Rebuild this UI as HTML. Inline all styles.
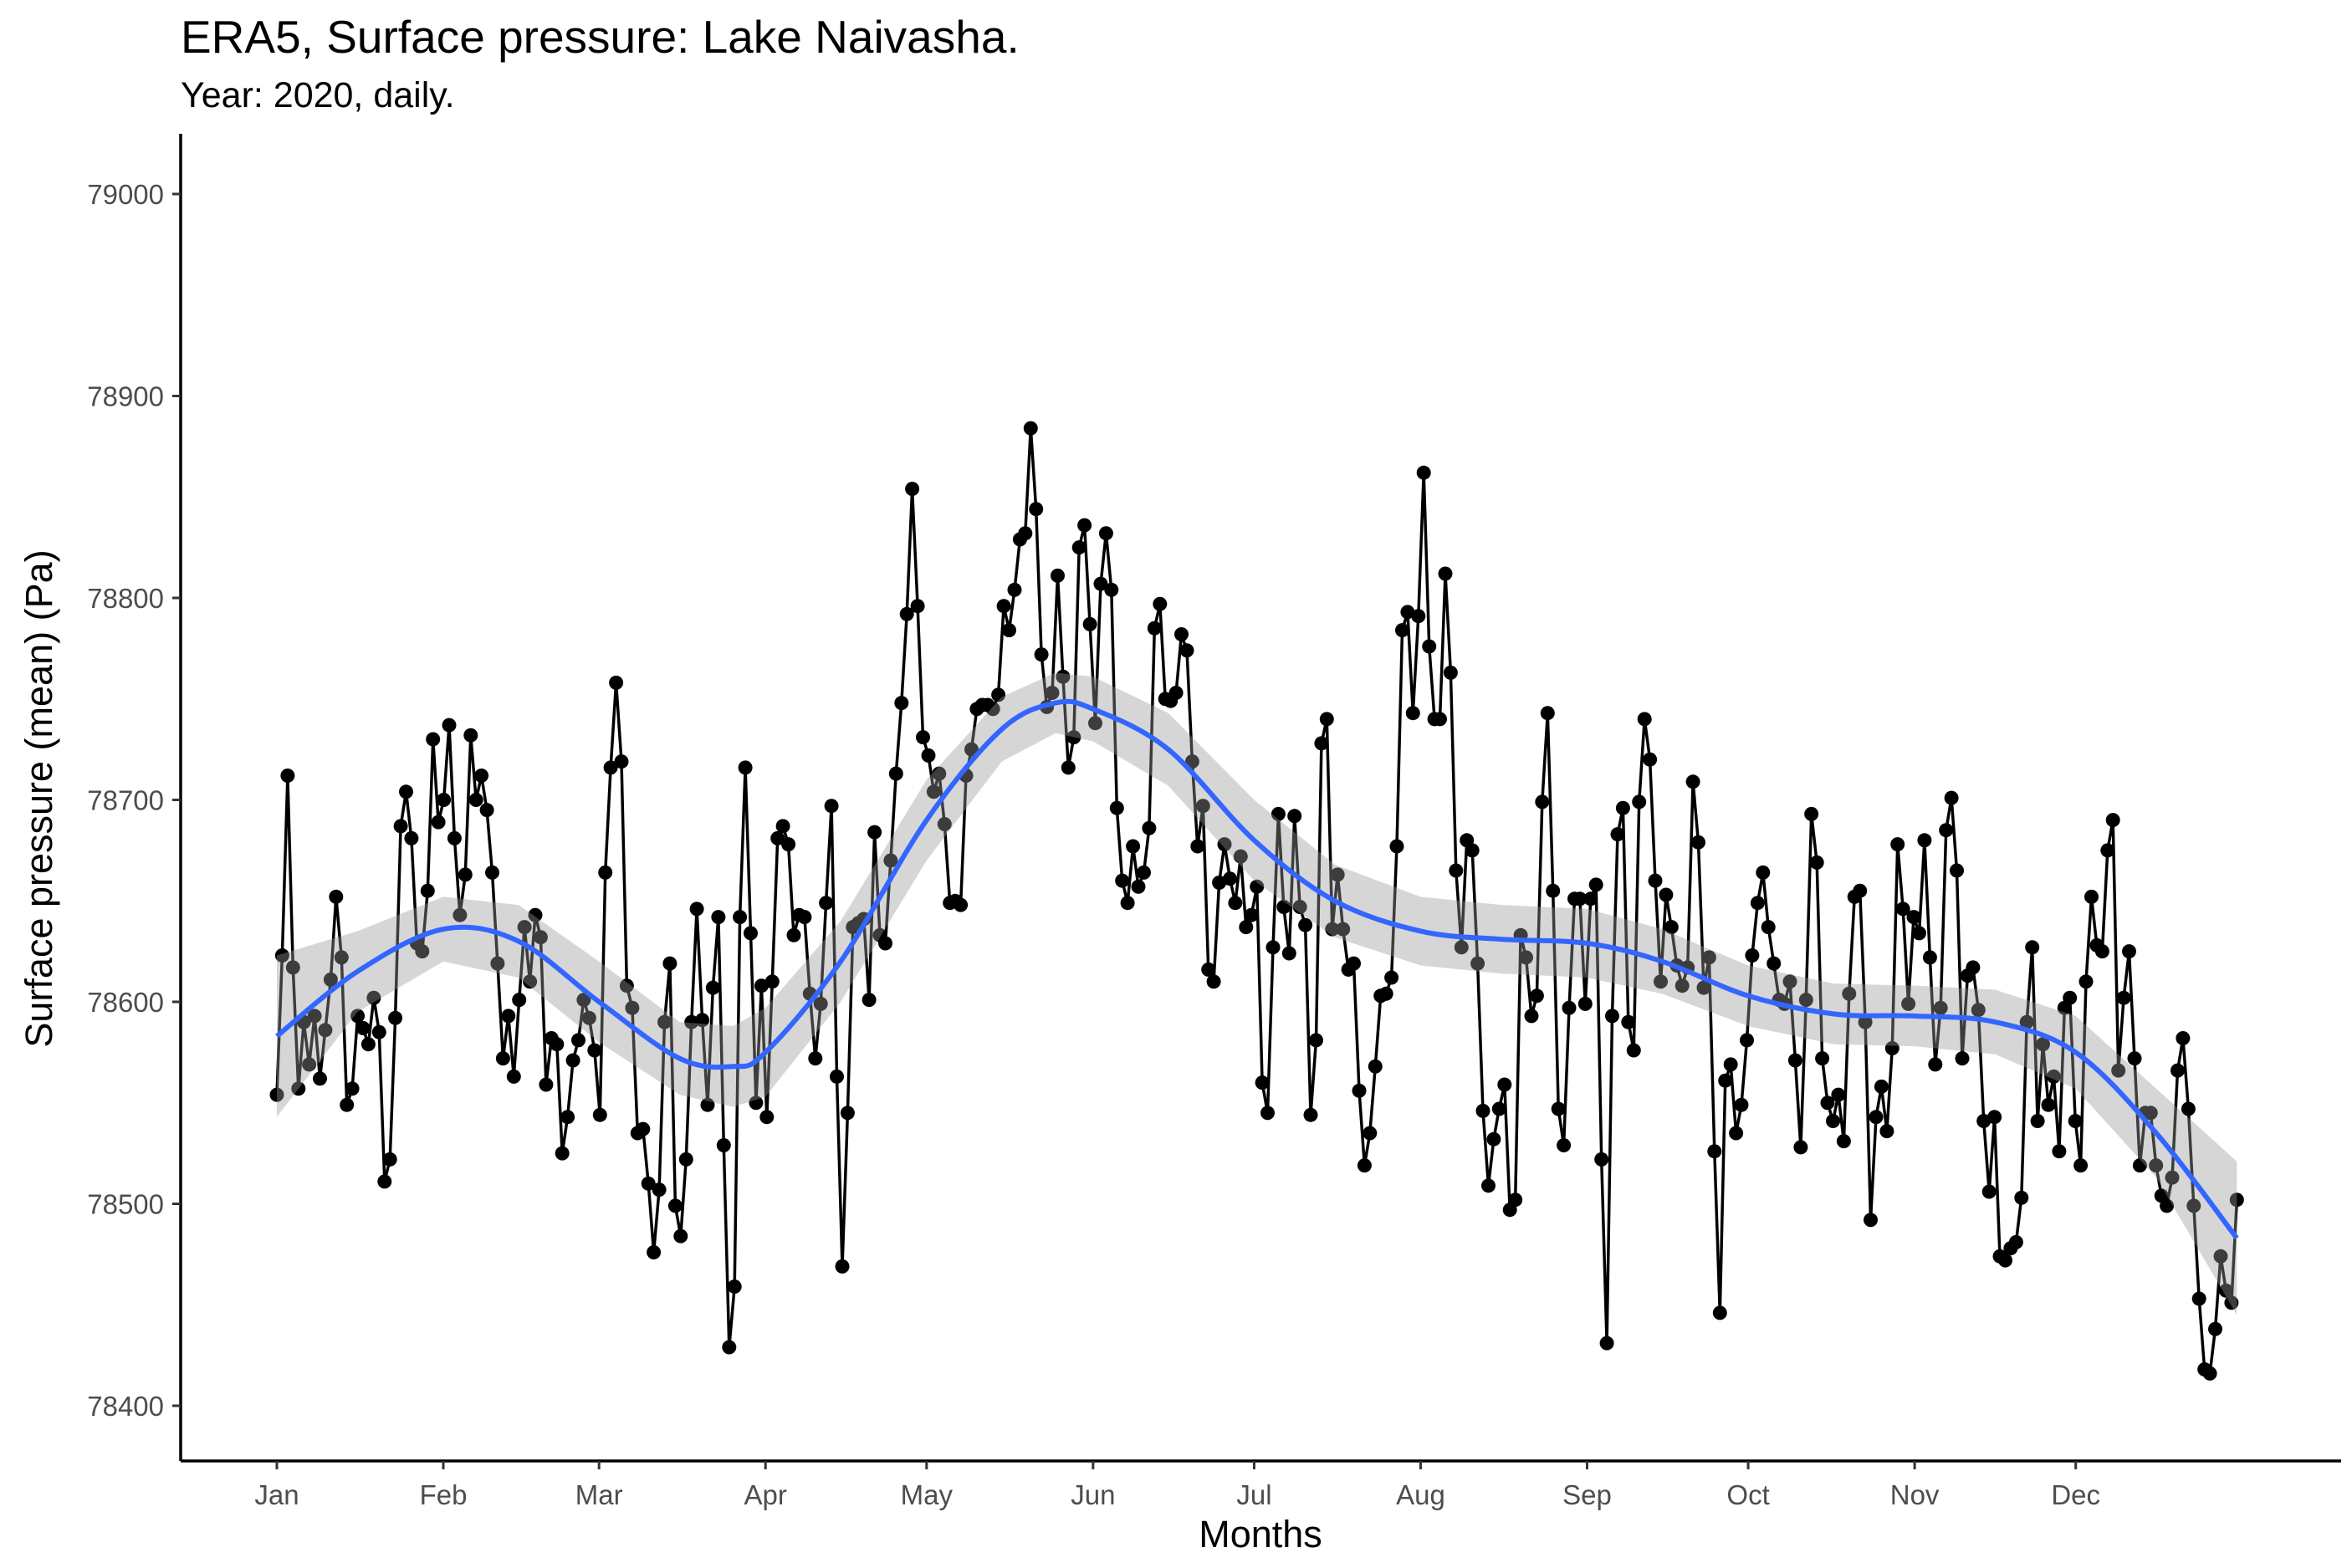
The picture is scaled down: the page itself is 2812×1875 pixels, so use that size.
<!DOCTYPE html>
<html><head><meta charset="utf-8"><style>
html,body{margin:0;padding:0;background:#fff;}
svg{display:block;font-family:"Liberation Sans",Arial,sans-serif;}
</style></head><body>
<svg id="chart" width="2812" height="1875" viewBox="0 0 2812 1875" xmlns="http://www.w3.org/2000/svg">
<text x="216" y="63" font-size="55" fill="#000">ERA5, Surface pressure: Lake Naivasha.</text>
<text x="216" y="128" font-size="43" fill="#000">Year: 2020, daily.</text>
<g id="plot"></g>
<text x="1507" y="1850" font-size="45" text-anchor="middle" fill="#000">Months</text>
<text transform="translate(62,955) rotate(-90)" font-size="45" text-anchor="middle" fill="#000">Surface pressure (mean) (Pa)</text>
</svg>
<script>
const values = [
78554,78623,78712,78617,78557,78590,78569,78593,78562,78586,78611,78652,78622,78549,78557,78593,78587,78579,78602,78585,78511,78522,78592,78687,78704,78681,78629,78625,78655,78730,78689,
78700,78737,78681,78643,78663,78732,78700,78712,78695,78664,78619,78572,78593,78563,78601,78637,78610,78643,78632,78559,78582,78579,78525,78543,78571,78581,78601,78592,78576,
78544,78664,78716,78758,78719,78608,78597,78535,78537,78510,78476,78507,78590,78619,78499,78484,78522,78590,78646,78591,78549,78607,78642,78529,78429,78459,78642,78716,78634,78550,78608,
78543,78610,78681,78687,78678,78633,78643,78642,78604,78572,78599,78649,78697,78563,78469,78545,78637,78639,78641,78601,78684,78633,78629,78670,78713,78748,78792,78854,78796,78731,
78722,78704,78713,78688,78649,78650,78648,78712,78725,78745,78747,78747,78745,78752,78796,78784,78804,78829,78832,78884,78844,78772,78746,78753,78811,78761,78716,78731,78825,78836,78787,
78738,78807,78832,78804,78696,78660,78649,78677,78657,78664,78686,78785,78797,78750,78749,78753,78782,78774,78719,78677,78697,78616,78610,78659,78678,78661,78649,78672,78637,78643,
78657,78560,78545,78627,78693,78647,78624,78692,78647,78638,78544,78581,78728,78740,78636,78663,78636,78616,78619,78556,78519,78535,78568,78603,78604,78612,78677,78784,78793,78743,78791,
78862,78776,78740,78740,78812,78763,78665,78627,78680,78675,78619,78546,78509,78532,78547,78559,78497,78502,78633,78622,78593,78603,78699,78743,78655,78547,78529,78597,78651,78651,78599,
78651,78658,78522,78431,78593,78683,78696,78590,78576,78699,78740,78720,78660,78610,78653,78637,78618,78608,78617,78709,78679,78607,78622,78526,78446,78561,78569,78535,78549,78581,
78623,78649,78664,78637,78619,78601,78599,78610,78571,78528,78601,78693,78669,78572,78550,78541,78554,78531,78604,78652,78655,78590,78492,78543,78558,78536,78577,78678,78646,78599,78642,
78634,78680,78622,78569,78597,78685,78701,78665,78572,78613,78617,78596,78541,78506,78543,78474,78472,78478,78481,78503,78590,78627,78541,78579,78549,78563,78526,78597,78602,78541,
78519,78610,78652,78628,78625,78675,78690,78566,78602,78625,78572,78519,78545,78545,78519,78504,78499,78513,78566,78582,78547,78499,78453,78418,78416,78438,78474,78457,78451,78502
];
const smoothDays = [0,15,31,45,60,75,85,91,105,121,135,145,152,166,182,197,213,228,244,258,274,290,305,320,335,350,365];
const smoothVals = [78583,78615,78636,78630,78600,78572,78568,78575,78620,78690,78735,78748,78745,78725,78680,78650,78635,78631,78629,78620,78603,78594,78593,78590,78575,78535,78483];
const bandHalf = [40,20,16,18,20,18,20,22,20,20,16,15,16,18,20,18,17,17,17,16,15,15,15,16,18,22,38];
const monthLabels = ["Jan","Feb","Mar","Apr","May","Jun","Jul","Aug","Sep","Oct","Nov","Dec"];
const monthDays = [0,31,60,91,121,152,182,213,244,274,305,335];
const yTicks = [78400,78500,78600,78700,78800,78900,79000];

const NS="http://www.w3.org/2000/svg";
const X0=216,X1=2799,Y1=1747;
const xs=d=>331+d*6.42;
const ys=v=>232+(79000-v)*2.415;
const g=document.getElementById('plot');
function mk(t,a,p){const e=document.createElementNS(NS,t);for(const k in a)e.setAttribute(k,a[k]);(p||g).appendChild(e);return e;}
const dayOf=i=>i*365/(values.length-1);

let d='';values.forEach((v,i)=>{d+=(i?'L':'M')+xs(dayOf(i)).toFixed(1)+' '+ys(v).toFixed(1);});
const ln=mk('path',{d:d,fill:'none',stroke:'#000','stroke-width':3.5,'stroke-linejoin':'round'});


values.forEach((v,i)=>{
  const c=mk('circle',{cx:xs(dayOf(i)).toFixed(1),cy:ys(v).toFixed(1),r:8.5,fill:'#000'});
  
  
});
let up='',lo='';
smoothDays.forEach((dd,i)=>{up+=(i?'L':'M')+xs(dd)+' '+ys(smoothVals[i]+bandHalf[i]);});
for(let i=smoothDays.length-1;i>=0;i--){lo+='L'+xs(smoothDays[i])+' '+ys(smoothVals[i]-bandHalf[i]);}
const band=mk('path',{d:up+lo+'Z',fill:'#999999','fill-opacity':0.4,stroke:'none'});


const P=smoothDays.map((dd,i)=>[xs(dd),ys(smoothVals[i])]);
let s='M'+P[0][0]+' '+P[0][1];
for(let i=0;i<P.length-1;i++){const p0=P[Math.max(0,i-1)],p1=P[i],p2=P[i+1],p3=P[Math.min(P.length-1,i+2)];
 s+='C'+(p1[0]+(p2[0]-p0[0])/6)+' '+(p1[1]+(p2[1]-p0[1])/6)+' '+(p2[0]-(p3[0]-p1[0])/6)+' '+(p2[1]-(p3[1]-p1[1])/6)+' '+p2[0]+' '+p2[1];}
const sm=mk('path',{d:s,fill:'none',stroke:'#3366FF','stroke-width':6});


const ya=mk('line',{x1:X0,y1:160,x2:X0,y2:Y1,stroke:'#000','stroke-width':3.5});


const xa=mk('line',{x1:X0,y1:Y1,x2:X1,y2:Y1,stroke:'#000','stroke-width':3.5});


yTicks.forEach(t=>{
  const tk=mk('line',{x1:X0-10,y1:ys(t),x2:X0,y2:ys(t),stroke:'#333','stroke-width':3});
  
  
  const tx=mk('text',{x:X0-20,y:ys(t)+12,'font-size':33,'text-anchor':'end',fill:'#4d4d4d'});
  tx.textContent=t;
  
  
});
monthDays.forEach((m,i)=>{
  const tk=mk('line',{x1:xs(m),y1:Y1,x2:xs(m),y2:Y1+10,stroke:'#333','stroke-width':3});
  
  
  const tx=mk('text',{x:xs(m),y:1799,'font-size':33,'text-anchor':'middle',fill:'#4d4d4d'});
  tx.textContent=monthLabels[i];
  
  
});
</script>
</body></html>
